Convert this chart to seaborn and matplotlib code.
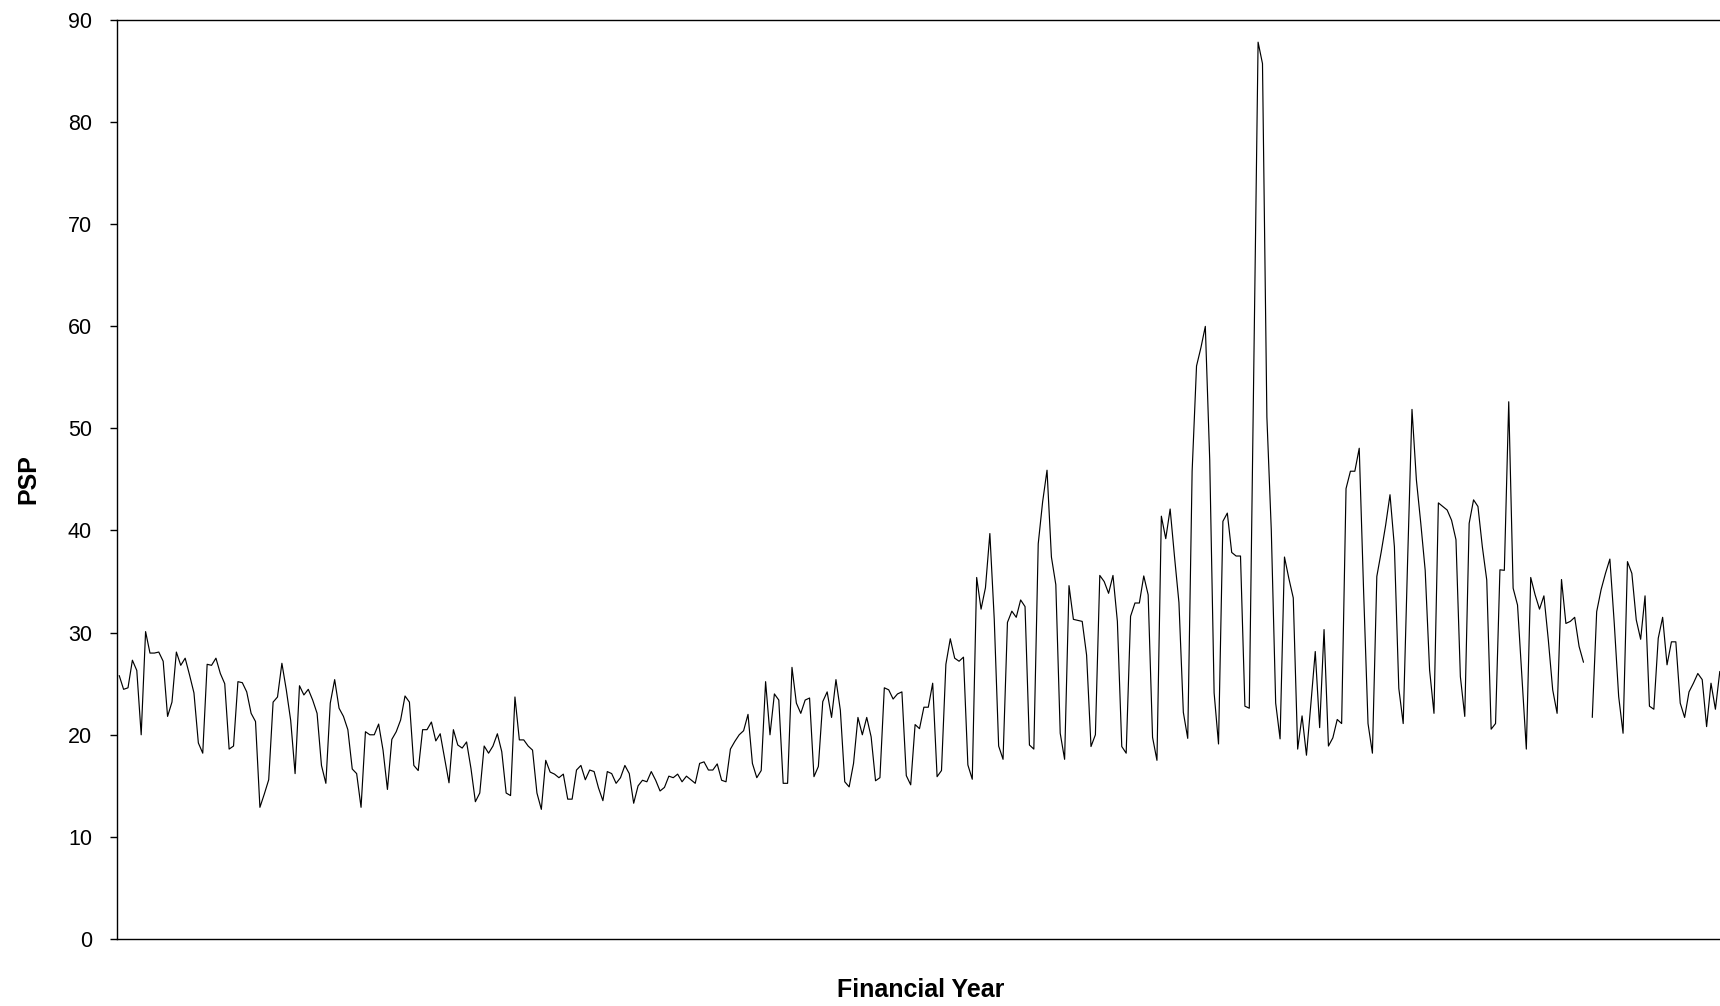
import numpy as np
import pandas as pd
import matplotlib
matplotlib.use("Agg")
import matplotlib.pyplot as plt
import seaborn as sns

# ---- data (weekly PSP values) ----
psp_part1 = [25.8, 24.45, 24.6, 27.3, 26.3, 20.0, 30.1, 28.0, 28.0, 28.1, 27.2, 21.8, 23.2, 28.1, 26.8, 27.5,
             25.85, 24.1, 19.2, 18.2, 26.9, 26.8, 27.5, 26.0, 25.0, 18.6, 18.9, 25.2, 25.1, 24.2, 22.1, 21.3,
             12.9, 14.2, 15.6, 23.2, 23.7,
             27.0, 24.4, 21.4, 16.2, 24.8, 23.9, 24.45, 23.4, 22.1, 17.0, 15.25, 23.1, 25.4, 22.6, 21.8, 20.5,
             16.65, 16.2, 12.9, 20.3, 20.0, 20.0, 21.05, 18.5, 14.65, 19.55, 20.3, 21.45, 23.8, 23.2, 17.0, 16.5,
             20.5, 20.5, 21.25, 19.4, 20.1]
psp_part2 = [17.7, 15.3, 20.5, 19.0, 18.7, 19.3, 16.7, 13.45, 14.3, 18.9, 18.2, 18.9, 20.1, 18.35, 14.3, 14.05,
             23.7, 19.5, 19.5, 18.9, 18.5, 14.3, 12.7, 17.5, 16.35, 16.15, 15.8, 16.15, 13.7, 13.7, 16.55, 17.0,
             15.6, 16.55, 16.4, 14.8,
             13.55, 16.4, 16.2, 15.25, 15.8, 17.0, 16.2, 13.3, 15.0, 15.55, 15.4, 16.4, 15.55, 14.5, 14.85, 15.95,
             15.8, 16.15, 15.4, 15.95, 15.6, 15.25, 17.2, 17.35, 16.55, 16.55, 17.15, 15.55, 15.4, 18.6, 19.35,
             20.0, 20.4, 22.0, 17.2, 15.8]
psp_part3 = [16.5, 25.2, 20.0, 24.0, 23.4, 15.25, 15.25, 26.6, 23.1, 22.1, 23.4, 23.6, 15.9, 16.9, 23.25, 24.2,
             21.7, 25.4, 22.4, 15.4, 14.9, 17.2, 21.7, 20.0, 21.7, 19.8, 15.5, 15.8, 24.6, 24.4, 23.5, 24.0, 24.2,
             16.0, 15.1, 21.0, 20.6,
             22.7, 22.7, 25.05, 15.9, 16.5, 26.9, 29.4, 27.5, 27.2, 27.6, 17.05, 15.65, 35.4, 32.3, 34.4, 39.7,
             31.3, 18.9, 17.6, 31.0, 32.1, 31.5, 33.2, 32.55, 19.0]
psp_part4 = [18.6, 38.7, 42.8, 45.9, 37.4, 34.7, 20.15, 17.6, 34.6, 31.3, 31.2, 31.1, 27.8, 18.85, 20.0, 35.6,
             35.0, 33.85, 35.6, 31.1, 18.85, 18.2, 31.6, 32.9, 32.9,
             35.55, 33.7, 19.75, 17.5, 41.4, 39.2, 42.1, 37.4, 32.95, 22.2, 19.65, 45.8, 56.1, 57.9, 59.98, 46.9,
             24.1, 19.1, 40.9, 41.7, 37.85, 37.5, 37.5, 22.8, 22.6,
             55.0, 87.8, 85.7, 51.1]
psp_part5 = [40.05, 23.1, 19.6, 37.4, 35.3, 33.4, 18.6, 21.85, 18.0, 23.0, 28.15, 20.7, 30.3, 18.9, 19.7, 21.5,
             21.1, 44.1, 45.8, 45.8, 48.05,
             34.0, 21.1, 18.2, 35.5, 37.9, 40.5, 43.5, 38.4, 24.55, 21.1, 37.0, 51.85, 44.95, 40.7, 36.1, 26.35,
             22.1, 42.7, 42.35, 42.0, 41.0, 39.1, 25.7, 21.8, 40.7,
             43.0, 42.35, 38.4, 35.15, 20.55, 21.1, 36.15, 36.1, 52.6, 34.35, 32.7, 25.7, 18.6, 35.4, 33.7, 32.3,
             33.6, 29.3, 24.4, 22.1, 35.2, 30.9, 31.1, 31.5, 28.65, 27.1]
psp_missing = [np.nan]
psp_part6 = [21.7, 32.05, 34.2, 35.8, 37.2, 30.9, 23.75, 20.15, 36.95, 35.8, 31.25, 29.35, 33.6, 22.8, 22.5,
             29.45, 31.5, 26.85, 29.1, 29.1, 23.1, 21.7, 24.2, 25.05, 26.0, 25.4, 20.8, 25.05, 22.5, 26.2]

y_ticks = [0, 10, 20, 30, 40, 50, 60, 70, 80, 90]
x_label = "Financial Year"
y_label = "PSP"

psp = psp_part1 + psp_part2 + psp_part3 + psp_part4 + psp_part5 + psp_missing + psp_part6
week = list(range(len(psp)))

df = pd.DataFrame({"week": week, "psp": psp})
# split into segments at missing values so the line breaks there
df["segment"] = df["psp"].isna().cumsum()
df = df.dropna()

sns.set_style("white")
plt.rcParams["font.family"] = ["Liberation Sans", "DejaVu Sans"]
plt.rcParams["text.color"] = "black"
plt.rcParams["axes.labelcolor"] = "black"
plt.rcParams["ytick.color"] = "black"
plt.rcParams["xtick.color"] = "black"

W, H = 1720, 1006
fig = plt.figure(figsize=(W / 100, H / 100), dpi=100)
ax_left, ax_right = 117, 1722
ax_top, ax_bottom = 19.7, 939.1
ax = fig.add_axes([ax_left / W, 1 - ax_bottom / H, (ax_right - ax_left) / W, (ax_bottom - ax_top) / H])

sns.lineplot(data=df, x="week", y="psp", units="segment", estimator=None,
             color="black", linewidth=0.85, ax=ax, legend=False)

ax.set_xlim(-0.5, len(psp) - 0.5)
ax.set_ylim(0, 90)
ax.set_yticks(y_ticks)
ax.set_yticklabels([str(t) for t in y_ticks], fontsize=15.5, color="black")
ax.set_xticks([])

for side in ["left", "bottom", "top", "right"]:
    ax.spines[side].set_visible(True)
    ax.spines[side].set_color("black")
    ax.spines[side].set_linewidth(1.0)

ax.tick_params(axis="y", direction="out", length=5, width=1, color="black", pad=13, left=True)

ax.set_xlabel(x_label, fontsize=18, fontweight="bold", color="black")
ax.set_ylabel(y_label, fontsize=18, fontweight="bold", color="black")
ax.xaxis.label.set_va("center")
ax.yaxis.label.set_va("center")
ax.xaxis.set_label_coords((921 - ax_left) / (ax_right - ax_left), -(990 - ax_bottom) / (ax_bottom - ax_top))
ax.yaxis.set_label_coords((28 - ax_left) / (ax_right - ax_left), 0.5)

fig.savefig("out.png", dpi=100, facecolor="white")
